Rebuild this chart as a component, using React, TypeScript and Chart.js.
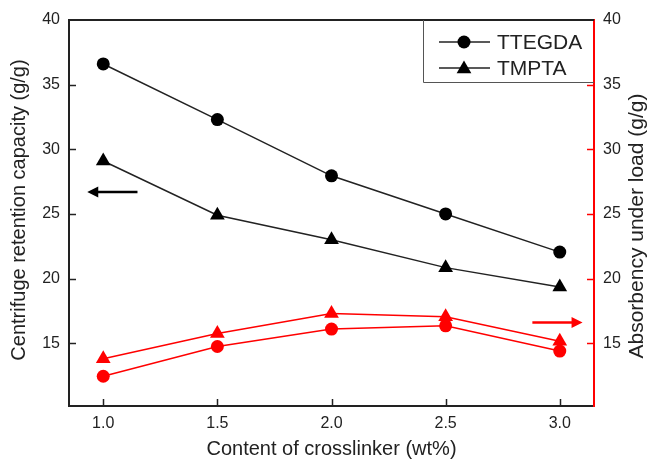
import React, { useEffect, useRef } from "react";
import { Chart, registerables } from "chart.js";

Chart.register(...registerables);

// Crosslinker content (wt%)
const crosslinkerContent = [1.0, 1.5, 2.0, 2.5, 3.0];
// Centrifuge retention capacity (g/g), left axis
const crcTTEGDA = [36.6, 32.3, 27.95, 25.0, 22.05];
const crcTMPTA = [29.1, 24.9, 23.0, 20.85, 19.35];
// Absorbency under load (g/g), right axis
const aulTTEGDA = [12.45, 14.75, 16.1, 16.35, 14.4];
const aulTMPTA = [13.8, 15.75, 17.3, 17.05, 15.15];

const xTickValues = [1.0, 1.5, 2.0, 2.5, 3.0];
const yTickValues = [15, 20, 25, 30, 35, 40];

// Arrows pointing to the axis each series group belongs to
const crcArrow = { from: 1.15, to: 0.93, value: 26.7 };
const aulArrow = { from: 2.88, to: 3.1, value: 16.6 };

const FONT = "'Liberation Sans', Arial, Helvetica, sans-serif";
const INK = "#222222";
const RED = "#ff0000";

function drawArrow(ctx: CanvasRenderingContext2D, x0: number, x1: number, y: number, color: string) {
  const dir = Math.sign(x1 - x0);
  const head = 11;
  const half = 5.5;
  ctx.save();
  ctx.strokeStyle = color;
  ctx.fillStyle = color;
  ctx.lineWidth = 2.5;
  ctx.beginPath();
  ctx.moveTo(x0, y);
  ctx.lineTo(x1 - dir * head * 0.6, y);
  ctx.stroke();
  ctx.beginPath();
  ctx.moveTo(x1, y);
  ctx.lineTo(x1 - dir * head, y - half);
  ctx.lineTo(x1 - dir * head, y + half);
  ctx.closePath();
  ctx.fill();
  ctx.restore();
}

function drawMarker(ctx: CanvasRenderingContext2D, style: string, x: number, y: number, r: number) {
  ctx.beginPath();
  if (style === "triangle") {
    ctx.moveTo(x, y - r);
    ctx.lineTo(x + r * 0.866, y + r * 0.5);
    ctx.lineTo(x - r * 0.866, y + r * 0.5);
    ctx.closePath();
  } else {
    ctx.arc(x, y, r, 0, Math.PI * 2);
  }
  ctx.fill();
}

const framePlugin = {
  id: "frameAndNotes",
  afterDraw(chart: any) {
    const { ctx, chartArea, scales } = chart;
    const { left, right, top, bottom } = chartArea;
    const x = scales.x;
    const y = scales.y;
    const y1 = scales.y1;
    ctx.save();

    // top frame line
    ctx.strokeStyle = INK;
    ctx.lineWidth = 2;
    ctx.beginPath();
    ctx.moveTo(left - 1, top);
    ctx.lineTo(right, top);
    ctx.stroke();

    // inward ticks
    const tick = 7;
    ctx.lineWidth = 1.5;
    ctx.strokeStyle = INK;
    for (const v of xTickValues) {
      const px = Math.round(x.getPixelForValue(v)) + 0.5;
      ctx.beginPath();
      ctx.moveTo(px, bottom);
      ctx.lineTo(px, bottom - tick);
      ctx.stroke();
    }
    for (const v of yTickValues) {
      if (v >= 40) continue;
      const py = Math.round(y.getPixelForValue(v)) + 0.5;
      ctx.beginPath();
      ctx.moveTo(left, py);
      ctx.lineTo(left + tick, py);
      ctx.stroke();
    }
    ctx.strokeStyle = RED;
    for (const v of yTickValues) {
      if (v >= 40) continue;
      const py = Math.round(y1.getPixelForValue(v)) + 0.5;
      ctx.beginPath();
      ctx.moveTo(right, py);
      ctx.lineTo(right - tick, py);
      ctx.stroke();
    }

    // arrows
    drawArrow(ctx, x.getPixelForValue(crcArrow.from), x.getPixelForValue(crcArrow.to), y.getPixelForValue(crcArrow.value), "#000");
    drawArrow(ctx, x.getPixelForValue(aulArrow.from), x.getPixelForValue(aulArrow.to), y1.getPixelForValue(aulArrow.value), RED);

    // legend box
    const boxLeft = 423.5;
    const boxBottom = 82.5;
    ctx.strokeStyle = "#555";
    ctx.lineWidth = 1;
    ctx.beginPath();
    ctx.moveTo(boxLeft, top);
    ctx.lineTo(boxLeft, boxBottom);
    ctx.lineTo(right, boxBottom);
    ctx.stroke();
    const rows = [
      { label: chart.data.datasets[0].label, style: "circle", r: 6.5, yy: 42 },
      { label: chart.data.datasets[1].label, style: "triangle", r: 8.5, yy: 68 },
    ];
    ctx.font = `21px ${FONT}`;
    ctx.textBaseline = "middle";
    ctx.textAlign = "left";
    for (const row of rows) {
      ctx.strokeStyle = INK;
      ctx.lineWidth = 1.5;
      ctx.beginPath();
      ctx.moveTo(439, row.yy);
      ctx.lineTo(490, row.yy);
      ctx.stroke();
      ctx.fillStyle = "#000";
      drawMarker(ctx, row.style, 464, row.style === "triangle" ? row.yy + 1 : row.yy, row.r);
      ctx.fillStyle = INK;
      ctx.fillText(row.label, 497, row.yy + 1);
    }

    // axis titles
    ctx.fillStyle = INK;
    ctx.font = `20px ${FONT}`;
    ctx.textAlign = "center";
    ctx.textBaseline = "middle";
    ctx.fillText("Content of crosslinker (wt%)", (left + right) / 2, 449);
    ctx.save();
    ctx.translate(19, 210);
    ctx.rotate(-Math.PI / 2);
    ctx.fillText("Centrifuge retention capacity (g/g)", 0, 0);
    ctx.restore();
    ctx.font = `21px ${FONT}`;
    ctx.save();
    ctx.translate(637, 226);
    ctx.rotate(-Math.PI / 2);
    ctx.fillText("Absorbency under load (g/g)", 0, 0);
    ctx.restore();

    ctx.restore();
  },
};

function pairs(values: number[]) {
  return crosslinkerContent.map((c, i) => ({ x: c, y: values[i] }));
}

export default function App() {
  const canvasRef = useRef<HTMLCanvasElement | null>(null);

  useEffect(() => {
    if (!canvasRef.current) return;
    const tickFont = { family: FONT, size: 16 };
    const chart = new Chart(canvasRef.current, {
      type: "line",
      data: {
        datasets: [
          {
            label: "TTEGDA",
            data: pairs(crcTTEGDA),
            yAxisID: "y",
            borderColor: INK,
            borderWidth: 1.5,
            pointStyle: "circle",
            pointRadius: 6.5,
            pointBackgroundColor: "#000",
            pointBorderWidth: 0,
          },
          {
            label: "TMPTA",
            data: pairs(crcTMPTA),
            yAxisID: "y",
            borderColor: INK,
            borderWidth: 1.5,
            pointStyle: "triangle",
            pointRadius: 8.5,
            pointBackgroundColor: "#000",
            pointBorderWidth: 0,
          },
          {
            label: "TTEGDA AUL",
            data: pairs(aulTTEGDA),
            yAxisID: "y1",
            borderColor: RED,
            borderWidth: 1.5,
            pointStyle: "circle",
            pointRadius: 6.5,
            pointBackgroundColor: RED,
            pointBorderWidth: 0,
          },
          {
            label: "TMPTA AUL",
            data: pairs(aulTMPTA),
            yAxisID: "y1",
            borderColor: RED,
            borderWidth: 1.5,
            pointStyle: "triangle",
            pointRadius: 8.5,
            pointBackgroundColor: RED,
            pointBorderWidth: 0,
          },
        ],
      },
      options: {
        animation: false,
        responsive: true,
        maintainAspectRatio: false,
        layout: { padding: { top: 20, left: 0, right: 0, bottom: 0 } },
        plugins: { legend: { display: false }, tooltip: { enabled: false } },
        scales: {
          x: {
            type: "linear",
            min: 0.85,
            max: 3.15,
            afterBuildTicks: (s: any) => {
              s.ticks = xTickValues.map((v) => ({ value: v }));
            },
            afterFit: (s: any) => {
              s.height = 58;
            },
            ticks: {
              autoSkip: false,
              maxRotation: 0,
              padding: 8,
              color: INK,
              font: tickFont,
              callback: (v: any) => Number(v).toFixed(1),
            },
            grid: { display: false, drawTicks: false },
            border: { display: true, color: INK, width: 2 },
          },
          y: {
            type: "linear",
            position: "left",
            min: 10.15,
            max: 40,
            afterBuildTicks: (s: any) => {
              s.ticks = yTickValues.map((v) => ({ value: v }));
            },
            afterFit: (s: any) => {
              s.width = 69;
            },
            ticks: { autoSkip: false, padding: 9, color: INK, font: tickFont },
            grid: { display: false, drawTicks: false },
            border: { display: true, color: INK, width: 2 },
          },
          y1: {
            type: "linear",
            position: "right",
            min: 10.15,
            max: 40,
            afterBuildTicks: (s: any) => {
              s.ticks = yTickValues.map((v) => ({ value: v }));
            },
            afterFit: (s: any) => {
              s.width = 53;
            },
            ticks: { autoSkip: false, padding: 9, color: INK, font: tickFont },
            grid: { display: false, drawTicks: false },
            border: { display: true, color: RED, width: 2 },
          },
        },
      },
      plugins: [framePlugin],
    } as any);
    return () => chart.destroy();
  }, []);

  return (
    <div style={{ position: "fixed", left: 0, top: 0, width: 647, height: 464, background: "#fff" }}>
      <canvas ref={canvasRef} />
    </div>
  );
}
